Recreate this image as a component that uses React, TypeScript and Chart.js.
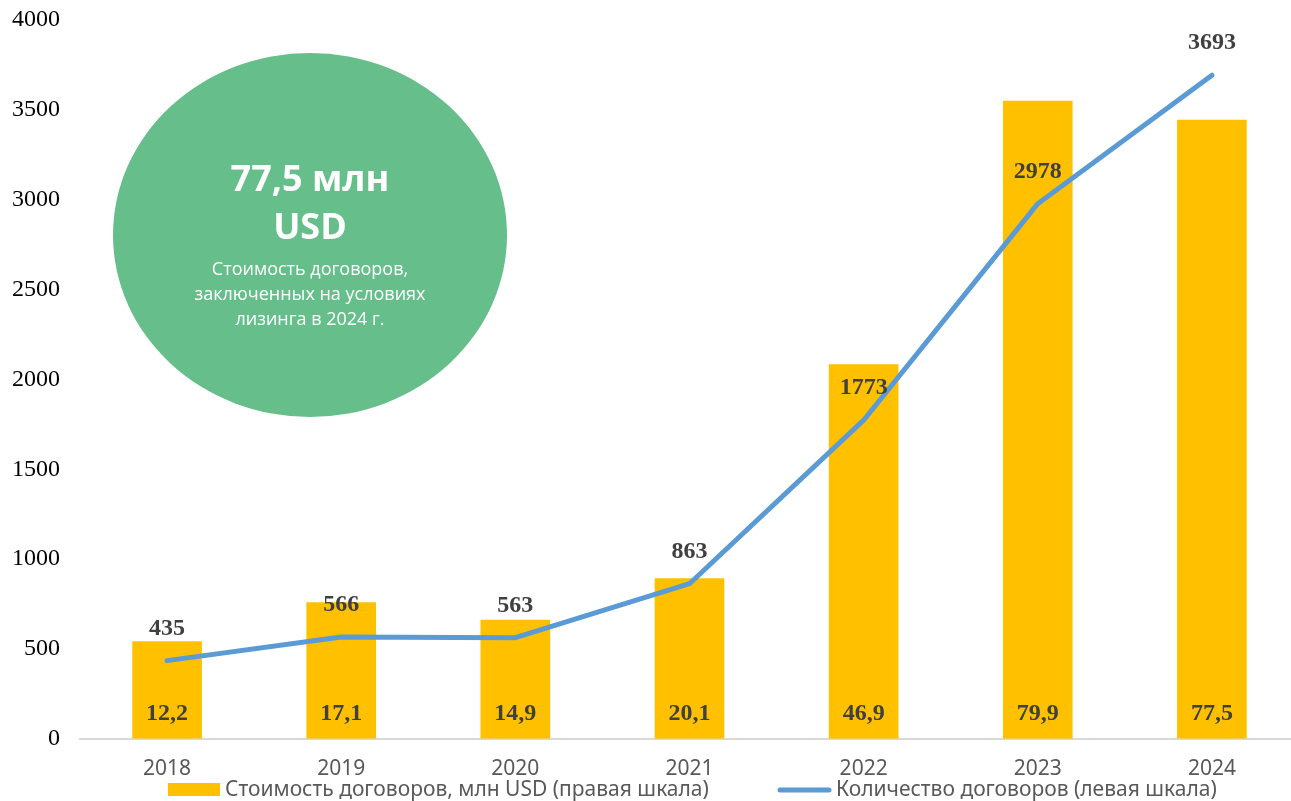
import React, { useEffect, useRef } from "react";
import { Chart, registerables } from "chart.js";

Chart.register(...registerables);

const years = ["2018", "2019", "2020", "2021", "2022", "2023", "2024"];
const contractValue = [12.2, 17.1, 14.9, 20.1, 46.9, 79.9, 77.5];
const contractCount = [435, 566, 563, 863, 1773, 2978, 3693];
const valueLabels = ["12,2", "17,1", "14,9", "20,1", "46,9", "79,9", "77,5"];
const barLabel = "Стоимость договоров, млн USD (правая шкала)";
const lineLabel = "Количество договоров (левая шкала)";
const circleTitle = ["77,5 млн", "USD"];
const circleText = ["Стоимость договоров,", "заключенных на условиях", "лизинга в 2024 г."];

const BAR_COLOR = "#FFC000";
const LINE_COLOR = "#5B9BD5";
const LABEL_COLOR = "#404040";
const SANS = "'Noto Sans', sans-serif";
const SERIF = "'Liberation Serif', 'Times New Roman', serif";

const overlayPlugin = {
  id: "overlay",
  afterDatasetsDraw(chart: any) {
    const ctx = chart.ctx;
    const barMeta = chart.getDatasetMeta(0);
    const lineMeta = chart.getDatasetMeta(1);
    const yScale = chart.scales.y;
    ctx.save();
    ctx.fillStyle = LABEL_COLOR;
    ctx.textAlign = "center";
    ctx.textBaseline = "middle";
    ctx.font = `bold 24px ${SERIF}`;
    barMeta.data.forEach((el: any, i: number) => {
      ctx.fillText(valueLabels[i], el.x, yScale.getPixelForValue(0) - 25);
    });
    lineMeta.data.forEach((el: any, i: number) => {
      ctx.fillText(String(contractCount[i]), el.x, el.y - 32);
    });
    ctx.restore();
  },
  afterDraw(chart: any) {
    const ctx = chart.ctx;
    ctx.save();
    ctx.fillStyle = "#66BF8A";
    ctx.beginPath();
    ctx.ellipse(310, 235, 197, 182, 0, 0, Math.PI * 2);
    ctx.fill();
    ctx.fillStyle = "#FFFFFF";
    ctx.textAlign = "center";
    ctx.textBaseline = "middle";
    ctx.font = `bold 36px 'Open Sans', sans-serif`;
    ctx.fillText(circleTitle[0], 310, 181);
    ctx.fillText(circleTitle[1], 310, 229);
    ctx.font = `18px 'Open Sans', sans-serif`;
    circleText.forEach((t, i) => ctx.fillText(t, 310, 270 + i * 25));

    const ly = 790;
    ctx.fillStyle = BAR_COLOR;
    ctx.fillRect(168, 783, 52, 13);
    ctx.fillStyle = "#595959";
    ctx.textAlign = "left";
    ctx.font = `21px ${SANS}`;
    ctx.fillText(chart.data.datasets[0].label, 225, ly);
    ctx.strokeStyle = LINE_COLOR;
    ctx.lineWidth = 5;
    ctx.lineCap = "round";
    ctx.beginPath();
    ctx.moveTo(780, ly);
    ctx.lineTo(829, ly);
    ctx.stroke();
    ctx.fillText(chart.data.datasets[1].label, 836, ly);
    ctx.restore();
  },
};

export default function App() {
  const ref = useRef<HTMLCanvasElement | null>(null);
  useEffect(() => {
    if (!ref.current) return;
    const chart = new Chart(ref.current, {
      type: "bar",
      data: {
        labels: years,
        datasets: [
          {
            type: "bar",
            label: barLabel,
            data: contractValue,
            backgroundColor: BAR_COLOR,
            yAxisID: "y1",
            categoryPercentage: 1,
            barPercentage: 0.4,
            order: 2,
          },
          {
            type: "line",
            label: lineLabel,
            data: contractCount,
            borderColor: LINE_COLOR,
            backgroundColor: LINE_COLOR,
            borderWidth: 5,
            pointRadius: 0,
            borderCapStyle: "round",
            borderJoinStyle: "round",
            tension: 0,
            yAxisID: "y",
            order: 1,
          },
        ],
      },
      options: {
        responsive: false,
        animation: false,
        devicePixelRatio: 1,
        layout: { padding: { top: 20, bottom: 1, left: 0, right: 0 } },
        plugins: {
          legend: { display: false },
          tooltip: { enabled: false },
        },
        scales: {
          x: {
            grid: { display: false, drawTicks: false },
            border: { display: true, color: "#D9D9D9", width: 2 },
            ticks: { color: "#595959", font: { family: SANS, size: 21 }, padding: 18 },
          },
          y: {
            position: "left",
            min: 0,
            max: 4000,
            grid: { display: false, drawTicks: false },
            border: { display: false },
            ticks: {
              stepSize: 500,
              color: "#000000",
              font: { family: SERIF, size: 24 },
              padding: 20,
              callback: (v: any) => String(v),
            },
            afterFit(scale: any) {
              scale.width = 80;
              scale.paddingTop = 0;
              scale.paddingBottom = 0;
            },
          },
          y1: {
            position: "right",
            min: 0,
            max: 90,
            display: false,
          },
        },
      },
      plugins: [overlayPlugin],
    } as any);
    return () => chart.destroy();
  }, []);
  return (
    <div style={{ position: "fixed", left: 0, top: 0, width: 1291, height: 801, overflow: "hidden", background: "#fff" }}>
      <canvas ref={ref} width={1299} height={801} style={{ width: 1299, height: 801, display: "block" }} />
    </div>
  );
}
